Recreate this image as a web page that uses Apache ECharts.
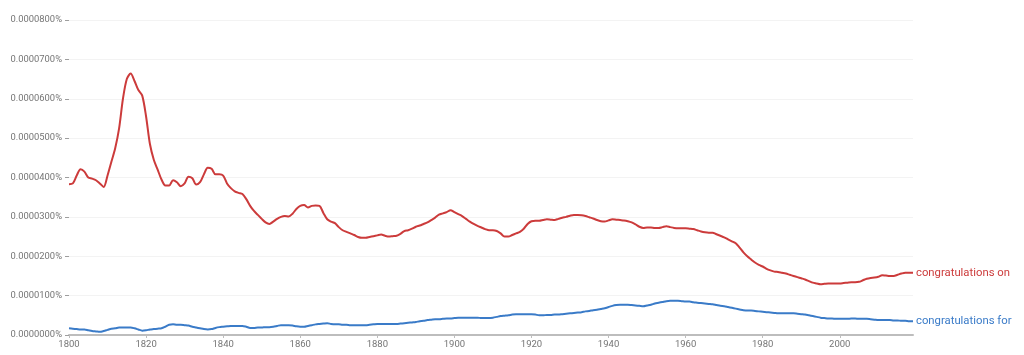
<!DOCTYPE html>
<html>
<head>
<meta charset="utf-8">
<script src="https://cdn.jsdelivr.net/npm/echarts@6/dist/echarts.min.js"></script>
<style>html,body{margin:0;padding:0;background:#fff}#c{width:1024px;height:355px}</style>
</head>
<body>
<div id="c"></div>
<script>
// Values in units of 0.00001 % (one gridline step)
const startYear = 1800;
const seriesNames = ['congratulations on', 'congratulations for'];
const yTickValues = [0, 1, 2, 3, 4, 5, 6, 7, 8];
const xTickYears = [1800, 1820, 1840, 1860, 1880, 1900, 1920, 1940, 1960, 1980, 2000];

const congratsOn = [
3.83,3.85,4.05,4.21,4.15,4.00,3.97,3.93,3.85,3.76,
4.05,4.40,4.75,5.25,6.00,6.50,6.64,6.45,6.22,6.08,
5.55,4.85,4.45,4.20,3.95,3.80,3.80,3.93,3.88,3.78,
3.85,4.02,3.98,3.82,3.88,4.08,4.25,4.22,4.08,4.08,
4.05,3.85,3.73,3.65,3.61,3.58,3.45,3.28,3.15,3.05,
2.95,2.86,2.82,2.88,2.95,3.00,3.02,3.01,3.08,3.20,
3.28,3.30,3.24,3.28,3.29,3.28,3.10,2.94,2.88,2.84,
2.74,2.66,2.62,2.58,2.54,2.49,2.47,2.47,2.49,2.51,
2.53,2.55,2.52,2.50,2.51,2.52,2.57,2.64,2.66,2.70,
2.75,2.78,2.82,2.86,2.92,2.98,3.06,3.09,3.12,3.17,
3.12,3.07,3.02,2.95,2.88,2.82,2.77,2.73,2.69,2.66,
2.66,2.64,2.58,2.50,2.50,2.54,2.58,2.62,2.70,2.82,
2.89,2.90,2.90,2.92,2.94,2.93,2.92,2.95,2.98,3.00,
3.03,3.05,3.05,3.04,3.02,2.99,2.96,2.92,2.89,2.88,
2.91,2.94,2.93,2.92,2.91,2.89,2.86,2.81,2.75,2.72,
2.73,2.73,2.72,2.72,2.74,2.76,2.74,2.72,2.71,2.71,
2.71,2.70,2.69,2.66,2.63,2.61,2.60,2.60,2.56,2.52,
2.48,2.43,2.38,2.33,2.22,2.10,2.00,1.92,1.84,1.78,
1.74,1.68,1.64,1.61,1.60,1.58,1.56,1.53,1.50,1.47,
1.44,1.41,1.37,1.33,1.31,1.29,1.30,1.31,1.31,1.31,
1.31,1.32,1.33,1.34,1.34,1.35,1.39,1.43,1.45,1.46,
1.48,1.52,1.51,1.50,1.50,1.53,1.56,1.58,1.58,1.58
];

const congratsFor = [
0.17,0.16,0.15,0.14,0.14,0.12,0.10,0.09,0.08,0.10,
0.13,0.16,0.17,0.19,0.19,0.19,0.19,0.17,0.14,0.11,
0.12,0.14,0.15,0.16,0.17,0.21,0.26,0.27,0.26,0.26,
0.25,0.24,0.21,0.19,0.17,0.15,0.14,0.15,0.18,0.20,
0.21,0.22,0.23,0.23,0.23,0.23,0.21,0.18,0.18,0.19,
0.19,0.20,0.20,0.21,0.23,0.25,0.25,0.25,0.24,0.22,
0.21,0.21,0.23,0.25,0.27,0.28,0.29,0.30,0.28,0.27,
0.27,0.26,0.26,0.25,0.25,0.25,0.25,0.25,0.26,0.27,
0.28,0.28,0.28,0.28,0.28,0.28,0.29,0.30,0.31,0.32,
0.33,0.35,0.36,0.38,0.39,0.40,0.40,0.41,0.42,0.42,
0.43,0.44,0.44,0.44,0.44,0.44,0.44,0.43,0.43,0.43,
0.44,0.46,0.48,0.49,0.50,0.52,0.53,0.53,0.53,0.53,
0.53,0.52,0.50,0.50,0.51,0.51,0.52,0.52,0.53,0.54,
0.55,0.56,0.57,0.58,0.60,0.61,0.63,0.64,0.66,0.68,
0.71,0.74,0.76,0.77,0.77,0.77,0.76,0.75,0.74,0.73,
0.75,0.77,0.80,0.82,0.84,0.86,0.87,0.87,0.87,0.86,
0.85,0.85,0.83,0.82,0.81,0.80,0.79,0.78,0.76,0.74,
0.73,0.71,0.69,0.67,0.65,0.63,0.62,0.62,0.61,0.60,
0.59,0.58,0.57,0.56,0.55,0.55,0.55,0.55,0.55,0.54,
0.53,0.52,0.50,0.48,0.46,0.44,0.43,0.42,0.42,0.41,
0.41,0.41,0.41,0.42,0.42,0.41,0.41,0.41,0.40,0.39,
0.38,0.38,0.38,0.38,0.37,0.37,0.36,0.36,0.35,0.35
];

const colors = ['#cc3b3b', '#3a7bc8'];
const UNIT = 0.00001; // percent per unit

function toPairs(arr){ return arr.map((v,i)=>[startYear+i, v]); }

const chart = echarts.init(document.getElementById('c'), null, {renderer:'canvas'});
const font = 'Roboto, "Noto Sans", sans-serif';
chart.setOption({
  animation:false,
  grid:{left:69, right:111, top:20, bottom:20, containLabel:false},
  xAxis:{
    type:'value', min:startYear, max:startYear+congratsOn.length-1, interval:20,
    axisLine:{show:true, lineStyle:{color:'#bdbdbd', width:2}},
    axisTick:{show:true, length:3, lineStyle:{color:'#bdbdbd'}},
    splitLine:{show:false},
    axisLabel:{color:'#757575', fontSize:9.5, fontFamily:font, margin:5, showMaxLabel:false,
      formatter:v=> xTickYears.indexOf(v)>=0 ? String(v) : ''}
  },
  yAxis:{
    type:'value', min:yTickValues[0], max:yTickValues[yTickValues.length-1], interval:1,
    axisLine:{show:false},
    axisTick:{show:true, length:4, lineStyle:{color:'#9e9e9e'}},
    splitLine:{show:true, lineStyle:{color:'#f3f3f3', width:1}},
    axisLabel:{color:'#757575', fontSize:9.4, fontFamily:font, margin:7,
      formatter:v=> (v*UNIT).toFixed(7)+'%'}
  },
  series:[
    {name:seriesNames[0], type:'line', data:toPairs(congratsOn), showSymbol:false, smooth:0.3,
     lineStyle:{color:colors[0], width:2}, itemStyle:{color:colors[0]},
     endLabel:{show:true, formatter:'{a}', color:colors[0], fontSize:11.3, fontFamily:font, distance:3}},
    {name:seriesNames[1], type:'line', data:toPairs(congratsFor), showSymbol:false, smooth:0.3,
     lineStyle:{color:colors[1], width:2}, itemStyle:{color:colors[1]},
     endLabel:{show:true, formatter:'{a}', color:colors[1], fontSize:11.3, fontFamily:font, distance:3}}
  ]
});
</script>
</body>
</html>
